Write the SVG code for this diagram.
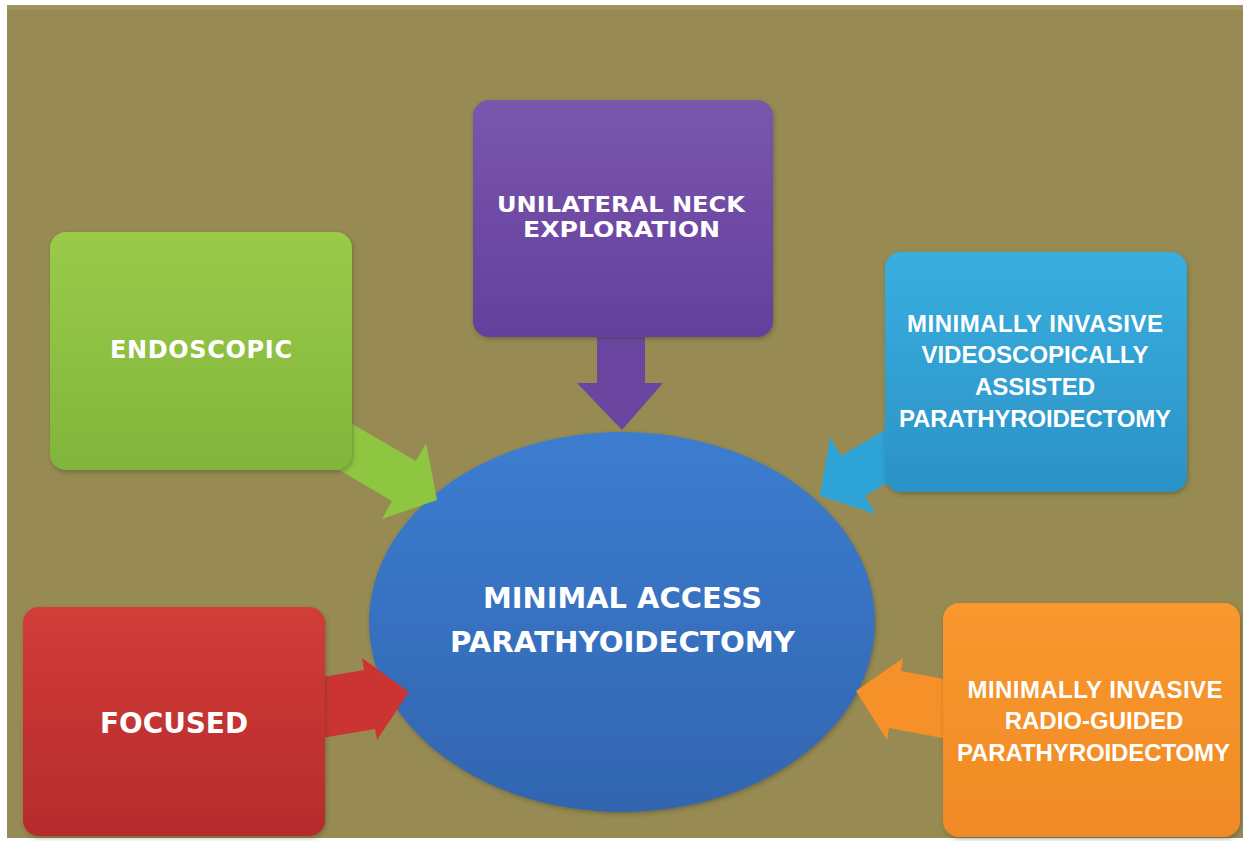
<svg xmlns="http://www.w3.org/2000/svg" width="1243" height="841" viewBox="0 0 1243 841">
<defs>
<linearGradient id="gGreen" x1="0" y1="0" x2="0" y2="1"><stop offset="0" stop-color="#9bca4a"/><stop offset="1" stop-color="#80b63b"/></linearGradient>
<linearGradient id="gPurple" x1="0" y1="0" x2="0" y2="1"><stop offset="0" stop-color="#7a56ad"/><stop offset="1" stop-color="#64409d"/></linearGradient>
<linearGradient id="gBlue" x1="0" y1="0" x2="0" y2="1"><stop offset="0" stop-color="#39aedf"/><stop offset="1" stop-color="#2b92c6"/></linearGradient>
<linearGradient id="gRed" x1="0" y1="0" x2="0" y2="1"><stop offset="0" stop-color="#d23c38"/><stop offset="1" stop-color="#b62b2c"/></linearGradient>
<linearGradient id="gOrange" x1="0" y1="0" x2="0" y2="1"><stop offset="0" stop-color="#f8982e"/><stop offset="1" stop-color="#f08a25"/></linearGradient>
<linearGradient id="gCenter" x1="0" y1="0" x2="0" y2="1"><stop offset="0" stop-color="#3c7dd0"/><stop offset="1" stop-color="#3265b0"/></linearGradient>
<filter id="sh" x="-10%" y="-10%" width="120%" height="120%"><feDropShadow dx="1" dy="2" stdDeviation="2" flood-color="#3a3420" flood-opacity="0.4"/></filter>
<style>
.lbl{font-weight:bold;fill:#ffffff;text-anchor:middle}
.geo{font-family:"DejaVu Sans","Liberation Sans",sans-serif}
.cal{font-family:"Liberation Sans",Arial,sans-serif;font-size:24px}
</style>
</defs>
<rect x="0" y="0" width="1243" height="841" fill="#ffffff"/>
<rect x="7" y="5" width="1236" height="833" fill="#978b53"/>
<rect x="7" y="5" width="1236" height="5" fill="#a59a66" opacity="0.6"/>

<g id="center">
<ellipse cx="622" cy="622" rx="253" ry="190" fill="url(#gCenter)" filter="url(#sh)"/>
<text class="lbl geo" x="622.5" y="608" font-size="29" textLength="279" lengthAdjust="spacingAndGlyphs">MINIMAL ACCESS</text>
<text class="lbl geo" x="622.5" y="652" font-size="29" textLength="345" lengthAdjust="spacingAndGlyphs">PARATHYOIDECTOMY</text>
</g>

<g id="connectors">
<polygon points="342,418 416,461 426,443 437,500 382,519 392,501 319,458" fill="#8ec641"/>
<polygon points="597,330 645,330 645,383 663,383 622,430 577,383 597,383" fill="#6a46a0"/>
<polygon points="914,413 841,456 830,438 820,496 876,514 865,496 938,452" fill="#2ea3d6"/>
<polygon points="305,680 364,670 362,658 409,692 377,740 375,729 316,739" fill="#cc3433"/>
<polygon points="960,682 901,671 903,658 856,691 887,740 889,728 948,739" fill="#f59128"/>
</g>

<g id="endoscopic">
<rect x="50" y="232" width="302" height="238" rx="16" fill="url(#gGreen)" filter="url(#sh)"/>
<text class="lbl geo" x="201" y="358" font-size="24" textLength="182" lengthAdjust="spacing">ENDOSCOPIC</text>
</g>

<g id="unilateral">
<rect x="473" y="100" width="300" height="237" rx="16" fill="url(#gPurple)" filter="url(#sh)"/>
<text class="lbl geo" x="621" y="212" font-size="22" textLength="248" lengthAdjust="spacingAndGlyphs">UNILATERAL NECK</text>
<text class="lbl geo" x="621.5" y="237" font-size="22" textLength="197" lengthAdjust="spacingAndGlyphs">EXPLORATION</text>
</g>

<g id="mivap">
<rect x="885" y="252" width="302" height="240" rx="16" fill="url(#gBlue)" filter="url(#sh)"/>
<text class="lbl cal" x="1035" y="332" textLength="256" lengthAdjust="spacing">MINIMALLY INVASIVE</text>
<text class="lbl cal" x="1035" y="363">VIDEOSCOPICALLY</text>
<text class="lbl cal" x="1035" y="395">ASSISTED</text>
<text class="lbl cal" x="1035" y="427" textLength="272" lengthAdjust="spacing">PARATHYROIDECTOMY</text>
</g>

<g id="focused">
<rect x="23" y="607" width="302" height="229" rx="16" fill="url(#gRed)" filter="url(#sh)"/>
<text class="lbl geo" x="174" y="733" font-size="28" textLength="148" lengthAdjust="spacingAndGlyphs">FOCUSED</text>
</g>

<g id="mirp">
<rect x="943" y="603" width="297" height="234" rx="16" fill="url(#gOrange)" filter="url(#sh)"/>
<text class="lbl cal" x="1095" y="698" textLength="255" lengthAdjust="spacing">MINIMALLY INVASIVE</text>
<text class="lbl cal" x="1094" y="729">RADIO-GUIDED</text>
<text class="lbl cal" x="1093.5" y="761" textLength="273" lengthAdjust="spacing">PARATHYROIDECTOMY</text>
</g>
</svg>
